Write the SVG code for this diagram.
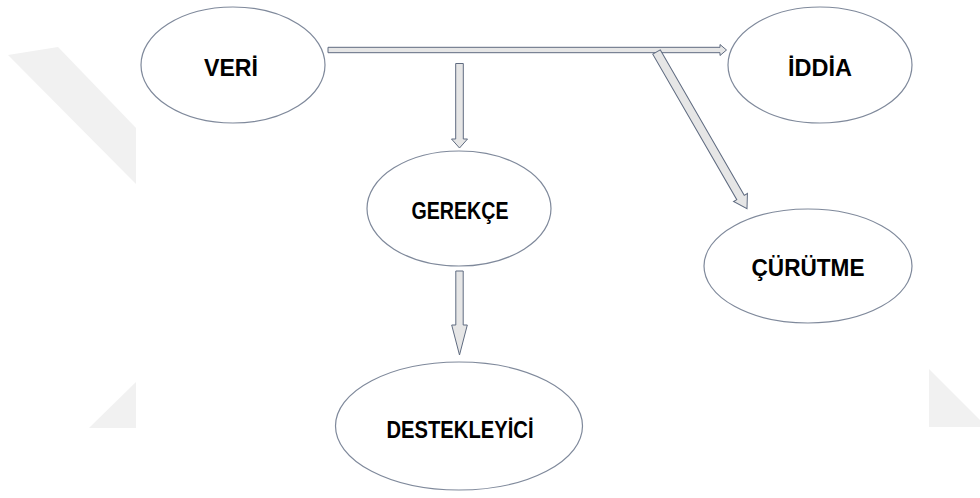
<svg xmlns="http://www.w3.org/2000/svg" width="980" height="498" viewBox="0 0 980 498">
  <style>
    .node ellipse { fill: #ffffff; stroke: #7f899b; stroke-width: 1.2; }
    .node text { font-family: "Liberation Sans", Arial, sans-serif; font-weight: bold; font-size: 23px; fill: #000000; text-anchor: middle; }
    .arrow { fill: #e6e6e6; stroke: #5f6b80; stroke-width: 1; stroke-linejoin: miter; }
    .wm { fill: #f1f1f1; }
  </style>
  <rect width="980" height="498" fill="#ffffff"/>
  <g id="watermark">
    <polygon class="wm" points="8,55 58,47 136,128 136,184"/>
    <polygon class="wm" points="89,428 136,382 136,428"/>
    <polygon class="wm" points="929,369 980,420 980,427 929,427"/>
  </g>
  <g id="connectors">
    <path class="arrow" d="M328,47.3 H720 V44.5 L726.5,50 L720,55.5 V52.7 H328 Z"/>
    <path class="arrow" d="M455.7,63.5 H463.3 V139 H467.5 L459.5,148 L451.5,139 H455.7 Z"/>
    <path class="arrow" d="M455.8,271 H463.2 V325 H467.3 L459.5,355 L451.7,325 H455.8 Z"/>
    <path class="arrow" transform="translate(656.5,52) rotate(60)" d="M0,-4.3 H168 V-8 L181,0 L168,8 V4.3 H0 Z"/>
  </g>
  <g id="veri" class="node">
    <ellipse cx="233" cy="65" rx="92" ry="58"/>
    <text x="231" y="76" textLength="54" lengthAdjust="spacingAndGlyphs">VERİ</text>
  </g>
  <g id="iddia" class="node">
    <ellipse cx="820" cy="65" rx="92" ry="58"/>
    <text x="820" y="75.5" textLength="64" lengthAdjust="spacingAndGlyphs">İDDİA</text>
  </g>
  <g id="gerekce" class="node">
    <ellipse cx="459" cy="208.5" rx="92" ry="57.5"/>
    <text x="460" y="218.5" textLength="97" lengthAdjust="spacingAndGlyphs">GEREKÇE</text>
  </g>
  <g id="curutme" class="node">
    <ellipse cx="808" cy="266" rx="104" ry="57"/>
    <text x="808" y="275.5" textLength="113" lengthAdjust="spacingAndGlyphs">ÇÜRÜTME</text>
  </g>
  <g id="destekleyici" class="node">
    <ellipse cx="459" cy="426" rx="123.5" ry="64"/>
    <text x="460" y="437.5" textLength="147" lengthAdjust="spacingAndGlyphs">DESTEKLEYİCİ</text>
  </g>
</svg>
